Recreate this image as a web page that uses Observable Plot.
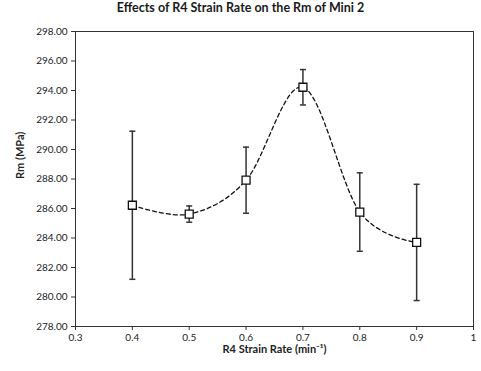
<!DOCTYPE html>
<html>
<head>
<meta charset="utf-8">
<script src="https://cdn.jsdelivr.net/npm/d3@7"></script>
<script src="https://cdn.jsdelivr.net/npm/@observablehq/plot@0.6"></script>
<style>
  html, body { margin: 0; padding: 0; background: #fff; }
  #title { width: 481px; height: 24px; line-height: 31px; text-align: center; font: bold 12.5px Lato, "Open Sans", sans-serif; color: #1a1a1a; }
  #chart svg { display: block; }
</style>
</head>
<body>
<div id="title">Effects of R4 Strain Rate on the Rm of Mini 2</div>
<div id="chart"></div>
<script>
const strainRate = [0.4, 0.5, 0.6, 0.7, 0.8, 0.9];
const rm = [286.22, 285.62, 287.92, 294.22, 285.76, 283.70];
const err = [5.02, 0.55, 2.24, 1.20, 2.66, 3.94];
const xTicks = [0.3, 0.4, 0.5, 0.6, 0.7, 0.8, 0.9, 1];
const yTicks = [278, 280, 282, 284, 286, 288, 290, 292, 294, 296, 298];

const data = strainRate.map((x, i) => ({x, y: rm[i], lo: rm[i] - err[i], hi: rm[i] + err[i]}));

const capSymbol = {
  draw(context, size) {
    const w = Math.sqrt(size);
    context.moveTo(-w / 2, 0);
    context.lineTo(w / 2, 0);
  }
};

const fontFamily = 'Lato, "Open Sans", sans-serif';

const chart = Plot.plot({
  width: 481,
  height: 347,
  marginTop: 7,
  marginBottom: 45,
  marginLeft: 75,
  marginRight: 8,
  style: {fontFamily, fontSize: "10px", color: "#222", background: "#fff"},
  x: {domain: [0.3, 1]},
  y: {domain: [278, 298]},
  marks: [
    Plot.frame({stroke: "#333", strokeWidth: 1}),
    Plot.axisX({ticks: xTicks, tickFormat: d => String(d), tickSize: 4, tickPadding: 3, label: null, stroke: "#333", fill: "#222"}),
    Plot.axisY({ticks: yTicks, tickFormat: d => d.toFixed(2), tickSize: 4, tickPadding: 4, label: null, stroke: "#333", fill: "#222"}),
    Plot.line(data, {x: "x", y: "y", curve: "cardinal", stroke: "#111", strokeWidth: 1.3, strokeDasharray: "4,3"}),
    Plot.ruleX(data, {x: "x", y1: "lo", y2: "hi", stroke: "#333", strokeWidth: 1.5}),
    Plot.dot(data, {x: "x", y: "lo", symbol: capSymbol, r: 3.4, stroke: "#333", strokeWidth: 1.5}),
    Plot.dot(data, {x: "x", y: "hi", symbol: capSymbol, r: 3.4, stroke: "#333", strokeWidth: 1.5}),
    Plot.dot(data, {x: "x", y: "y", symbol: "square", r: 4.5, fill: "white", stroke: "#111", strokeWidth: 1.3}),
    Plot.text(["R4 Strain Rate (min\u207B\u00B9)"], {frameAnchor: "bottom", dy: 26, fontWeight: "bold", fontSize: 11, fill: "#222"}),
    Plot.text(["Rm (MPa)"], {frameAnchor: "left", dx: -55, rotate: -90, fontWeight: "bold", fontSize: 11, fill: "#222"})
  ]
});
document.getElementById("chart").appendChild(chart);
</script>
</body>
</html>
